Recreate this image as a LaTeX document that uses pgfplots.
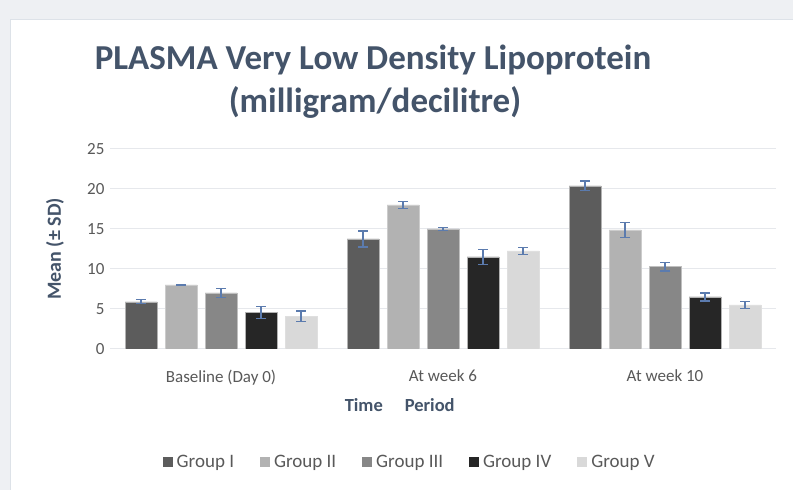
\documentclass[border=0pt]{standalone}
\usepackage{pgfplots}
\pgfplotsset{compat=1.18}
\usepackage{fontspec}
\setmainfont{Carlito}
\definecolor{bgGray}{HTML}{EEF0F3}
\definecolor{panelBorder}{HTML}{DDE2E8}
\definecolor{titleCol}{HTML}{44546A}
\definecolor{tickCol}{HTML}{595959}
\definecolor{gridCol}{HTML}{E6E8EC}
\definecolor{errCol}{HTML}{5B7BAE}
\definecolor{gI}{HTML}{5C5C5C}
\definecolor{gII}{HTML}{B2B2B2}
\definecolor{gIII}{HTML}{878787}
\definecolor{gIV}{HTML}{262626}
\definecolor{gV}{HTML}{D9D9D9}
\begin{document}
\begin{tikzpicture}
\useasboundingbox (0,0) rectangle (793bp,490bp);
\fill[bgGray] (0,0) rectangle (793bp,490bp);
\filldraw[fill=white, draw=panelBorder, line width=1bp] (10bp,-5bp) rectangle (800bp,470bp);
\node[text=titleCol, font=\fontsize{35bp}{41bp}\selectfont\bfseries] at (373bp,430bp) {PLASMA Very Low Density Lipoprotein};
\node[text=titleCol, font=\fontsize{35bp}{41bp}\selectfont\bfseries] at (375bp,388bp) {(milligram/decilitre)};
\begin{axis}[
  at={(110bp,141bp)}, anchor=south west,
  scale only axis, width=666bp, height=200bp,
  ybar=8bp, bar width=32bp,
  xmin=-0.5, xmax=2.5, ymin=0, ymax=25,
  xtick=data, xticklabels={Baseline (Day 0), At week 6, At week 10},
  ytick={0,5,...,25},
  axis line style={draw=none},
  axis x line*=bottom,
  x axis line style={draw=gridCol, line width=1bp},
  tick style={draw=none},
  ymajorgrids, grid style={gridCol, line width=1bp},
  /pgf/number format/assume math mode=true,
  ticklabel style={text=tickCol, font=\fontsize{17bp}{19bp}\selectfont},
  yticklabel style={xshift=-2bp},
  xticklabel style={yshift=-13bp},
  ylabel={Mean (± SD)},
  ylabel style={text=titleCol, font=\fontsize{20bp}{22bp}\selectfont\bfseries, at={(axis description cs:-0.0826,0.5)}, anchor=center},
  xlabel={Time\hspace{22bp}Period},
  xlabel style={text=titleCol, font=\fontsize{18.5bp}{20bp}\selectfont\bfseries, at={(axis description cs:0.435,0)}, anchor=center, yshift=-56bp},
  legend style={at={(axis description cs:0.45,-0.565)}, anchor=center, draw=none, fill=none, legend columns=5,
    font=\fontsize{19bp}{21bp}\selectfont, text=tickCol,
    /tikz/every odd column/.append style={column sep=2bp},
    /tikz/every even column/.append style={column sep=24bp}},
  legend cell align=left,
  legend image code/.code={\fill[#1, draw=none] (0bp,-5bp) rectangle (10bp,5bp);},
  error bars/y dir=both, error bars/y explicit,
  error bars/error bar style={errCol, line width=1.1bp},
  error bars/error mark options={rotate=90, errCol, mark size=5bp, line width=1.1bp},
]
\addplot[fill=gI, draw=gray!60, line width=0.5bp] coordinates {(0,5.9) +- (0,0.25) (1,13.75) +- (0,1.0) (2,20.4) +- (0,0.6)};
\addplot[fill=gII, draw=gray!40, line width=0.5bp] coordinates {(0,8.0) +- (0,0.1) (1,18.0) +- (0,0.45) (2,14.9) +- (0,0.95)};
\addplot[fill=gIII, draw=gray!50, line width=0.5bp] coordinates {(0,7.0) +- (0,0.6) (1,15.0) +- (0,0.2) (2,10.3) +- (0,0.55)};
\addplot[fill=gIV, draw=gray!60, line width=0.5bp] coordinates {(0,4.6) +- (0,0.75) (1,11.5) +- (0,0.9) (2,6.5) +- (0,0.5)};
\addplot[fill=gV, draw=gray!25, line width=0.5bp] coordinates {(0,4.1) +- (0,0.65) (1,12.25) +- (0,0.45) (2,5.5) +- (0,0.45)};
\legend{Group I, Group II, Group III, Group IV, Group V}
\end{axis}
\end{tikzpicture}
\end{document}
